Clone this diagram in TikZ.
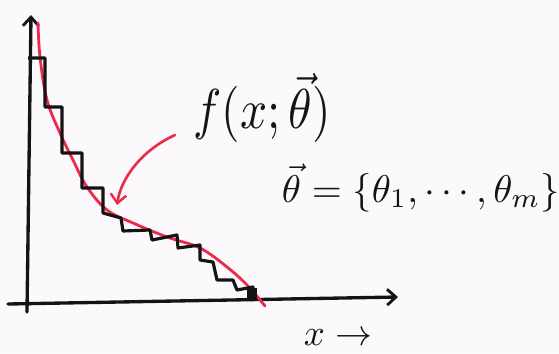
\documentclass[tikz,border=0pt]{standalone}
\usetikzlibrary{arrows.meta}
\definecolor{pen}{RGB}{236,42,78}
\definecolor{ink}{RGB}{20,20,20}
\definecolor{paper}{RGB}{251,249,251}
\tikzset{
  axis/.style={draw=ink, line width=1.9pt, line cap=round, -{Straight Barb[length=5pt,width=9pt,line width=1.6pt]}},
  stair/.style={draw=ink, line width=1.8pt, line join=round},
  curve/.style={draw=pen, line width=1.6pt, line cap=round},
  pointer/.style={draw=pen, line width=1.5pt, line cap=round, -{Straight Barb[length=5pt,width=9pt,line width=1.4pt]}},
  label/.style={inner sep=0pt, text=ink}
}
\begin{document}
\begin{tikzpicture}[x=0.02cm, y=-0.02cm]
\fill[paper] (0,0) rectangle (559,353);
\useasboundingbox (0,0) rectangle (559,353);
% axes
\coordinate (yb) at (27,312);
\coordinate (yt) at (31,15);
\coordinate (xl) at (8,304);
\coordinate (xr) at (398,297);
\draw[axis] (yb) -- (yt);
\draw[axis] (xl) -- (xr);
% red curve
\draw[curve] plot[smooth, tension=0.6] coordinates {(38,23) (40,57) (47,100) (60,133) (73,160) (87,187) (107,210) (133,223) (167,237) (200,248) (227,267) (247,285) (265,306)};
% staircase
\draw[stair] (28,58) -- (45,58) -- (45,107) -- (62,107) -- (62,153) -- (82,153) -- (82,188) -- (103,188) -- (103,213) -- (121,218) -- (123,231) -- (150,230) -- (152,240) -- (177,235) -- (178,248) -- (200,245) -- (200,260) -- (213,262) -- (217,280) -- (233,280) -- (237,290) -- (253,287) -- (253,300);
\fill[ink] (247,288) rectangle (257,300);
% labels
\node[label, xscale=2.7, yscale=3.2] (flabel) at (262,108) {$f(x;\vec\theta)$};
\node[label, scale=2.2] (thetalabel) at (421,188) {$\vec\theta=\{\theta_1,\cdots,\theta_m\}$};
\node[label, scale=2.1] (xlabel) at (338,338) {$x\rightarrow$};
% pointer arrow
\coordinate (arrowstart) at (175,135);
\coordinate (arrowtip) at (117,205);
\draw[pointer] (arrowstart) .. controls (142,150) and (121,178) .. (arrowtip);
\end{tikzpicture}
\end{document}
